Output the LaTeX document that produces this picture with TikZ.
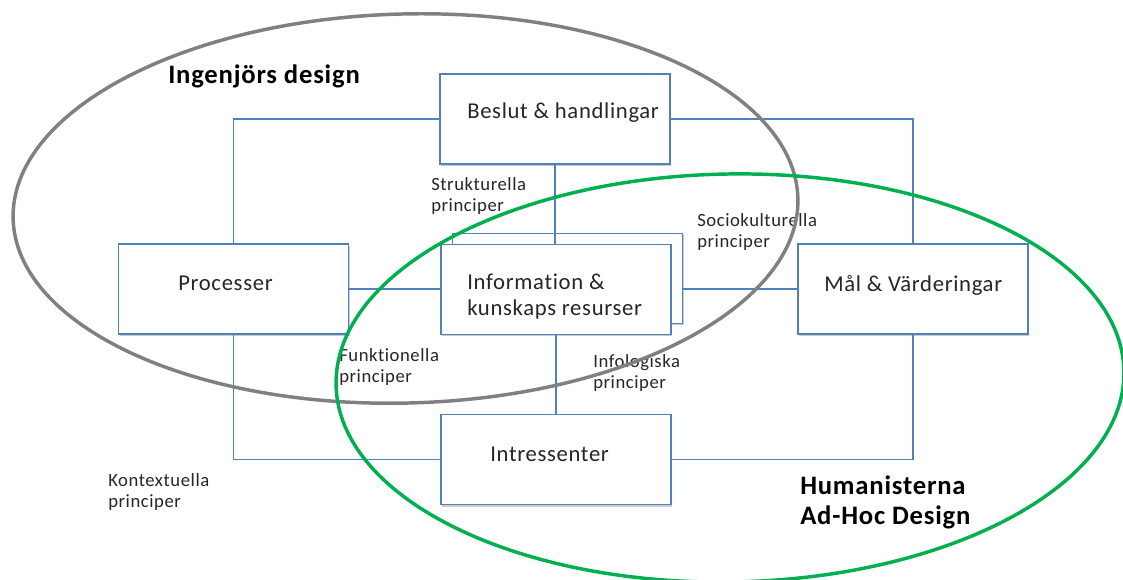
\documentclass[tikz,border=0pt]{standalone}
\usepackage{fontspec}
\setmainfont{Carlito}
\newfontfamily\spacedfont[LetterSpace=3,Ligatures=NoCommon]{Carlito}
\usetikzlibrary{shadows}
\definecolor{boxblue}{HTML}{4F81BD}
\definecolor{enggray}{HTML}{808080}
\definecolor{humgreen}{HTML}{00B050}
\definecolor{textdark}{HTML}{262626}
\begin{document}
\begin{tikzpicture}[x=0.75pt,y=-0.75pt,
  box/.style={draw=boxblue, fill=white, line width=0.9pt, inner sep=0pt,
    minimum width=172.5pt, minimum height=67.5pt,
    drop shadow={shadow xshift=1pt, shadow yshift=-1.5pt, fill=black!40, opacity=0.5}},
  link/.style={draw=boxblue, line width=0.9pt},
  boxtext/.style={inner sep=0pt, anchor=west, text=textdark, align=left,
    font=\spacedfont\fontsize{17}{20}\selectfont},
  principle/.style={inner sep=0pt, anchor=west, text=textdark, align=left,
    font=\spacedfont\fontsize{14}{15.75}\selectfont},
  schooltext/.style={inner sep=0pt, anchor=west, text=black, align=left,
    font=\spacedfont\bfseries\fontsize{20}{22.5}\selectfont},
  school/.style={line width=2.6pt}]
\useasboundingbox (0,0) rectangle (1123,580);
\clip (0,0) rectangle (1123,580);

% the five boxes (the information box is doubled)
\node[box] (beslut) at (555,119) {};
\node[box] (proc) at (233.5,289) {};
\node[box] (mal) at (913,289) {};
\node[box] (intr) at (556,459.5) {};
\node[box] (infoback) at (567.5,278.5) {};

% connectors between the boxes
\draw[link] (beslut.west) -| (proc.north);
\draw[link] (proc.south) |- (intr.west);
\draw[link] (intr.east) -| (mal.south);
\draw[link] (mal.north) |- (beslut.east);
\draw[link] (beslut.south) -- (beslut.south |- infoback.north) -- ++(0,11);
\draw[link] (proc.east) -- (proc.east -| infoback.west) -- ++(11,0);
\draw[link] (infoback.east |- mal.west) -- (mal.west);

\node[box] (info) at (556,289.5) {};
\draw[link] (info.south) -- (intr.north);

% box texts
\node[boxtext] (beslut-t) at (467,113) {Beslut \& handlingar};
\node[boxtext] (proc-t) at (178,283) {Processer};
\node[boxtext] (info-t) at (467,296.5) {Information \&\\kunskaps resurser};
\node[boxtext] (mal-t) at (824,285) {Mål \& Värderingar};
\node[boxtext] (intr-t) at (490,454) {Intressenter};

% principle labels
\node[principle] (strukt) at (431,196.5) {Strukturella\\principer};
\node[principle] (socio) at (697,232.5) {Sociokulturella\\principer};
\node[principle] (funk) at (339,367) {Funktionella\\principer};
\node[principle] (infolog) at (593,373) {Infologiska\\principer};
\node[principle] (kontext) at (108,492.5) {Kontextuella\\principer};

% the two design schools
\draw[school, draw=enggray, rotate around={1.5:(405.5,208.5)}]
  (405.5,208.5) ellipse [x radius=294.4pt, y radius=145.9pt];
\draw[school, draw=humgreen, rotate around={1:(730,378)}]
  (730,378) ellipse [x radius=295.5pt, y radius=153pt];

\node[schooltext] (ingen) at (168,76) {Ingenjörs design};
\node[schooltext] (human) at (800,502) {Humanisterna\\Ad-Hoc Design};
\end{tikzpicture}
\end{document}
